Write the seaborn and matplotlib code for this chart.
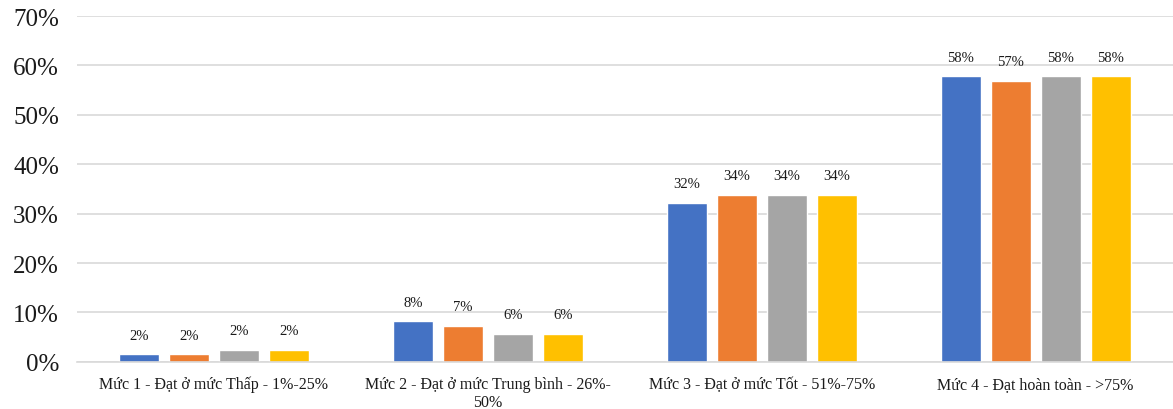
import pandas as pd
import seaborn as sns
import matplotlib.pyplot as plt
from matplotlib.ticker import PercentFormatter

# data (percent)
categories = [
    "Mức 1 - Đạt ở mức Thấp - 1%-25%",
    "Mức 2 - Đạt ở mức Trung bình - 26%-\n50%",
    "Mức 3 - Đạt ở mức Tốt - 51%-75%",
    "Mức 4 - Đạt hoàn toàn - >75%",
]
series = ["Nhóm 1", "Nhóm 2", "Nhóm 3", "Nhóm 4"]
values_s1 = [1.5, 8.2, 32.2, 57.8]
values_s2 = [1.5, 7.3, 33.8, 56.9]
values_s3 = [2.4, 5.7, 33.8, 57.8]
values_s4 = [2.4, 5.7, 33.8, 57.8]
labels_s1 = ["2%", "8%", "32%", "58%"]
labels_s2 = ["2%", "7%", "34%", "57%"]
labels_s3 = ["2%", "6%", "34%", "58%"]
labels_s4 = ["2%", "6%", "34%", "58%"]
colors = ["#4472C4", "#ED7D31", "#A5A5A5", "#FFC000"]

rows = []
for name, vals in zip(series, [values_s1, values_s2, values_s3, values_s4]):
    for cat, v in zip(categories, vals):
        rows.append({"category": cat, "series": name, "value": v})
df = pd.DataFrame(rows)
all_labels = [labels_s1, labels_s2, labels_s3, labels_s4]

sns.set_theme(style="white")
plt.rcParams["font.family"] = ["Liberation Serif", "DejaVu Serif"]

fig = plt.figure(figsize=(11.73, 4.10), dpi=100)
ax = fig.add_axes([0.0656, 0.115, 0.934, 0.8435])

sns.barplot(data=df, x="category", y="value", hue="series", order=categories,
            hue_order=series, palette=colors, width=0.73, gap=0.2,
            saturation=1, legend=False, ax=ax)

for cont, labs in zip(ax.containers, all_labels):
    ax.bar_label(cont, labels=labs, padding=9, fontsize=10.5, color="#1a1a1a")

ax.set_ylim(0, 70)
ax.set_yticks(range(0, 71, 10))
ax.yaxis.set_major_formatter(PercentFormatter(decimals=0))
ax.set_xlim(-0.5, 3.5)
ax.grid(axis="y", color="#d9d9d9", linewidth=1.2)
ax.set_axisbelow(True)
for side in ["left", "right", "top"]:
    ax.spines[side].set_visible(False)
ax.spines["bottom"].set_color("#d9d9d9")
ax.spines["bottom"].set_linewidth(1.2)
ax.tick_params(axis="y", labelsize=18, length=0, pad=13, labelcolor="#1a1a1a")
ax.tick_params(axis="x", labelsize=11.5, length=0, pad=10, labelcolor="#1a1a1a")
ax.set_xlabel("")
ax.set_ylabel("")

fig.savefig("out.png", dpi=100)
plt.close(fig)
